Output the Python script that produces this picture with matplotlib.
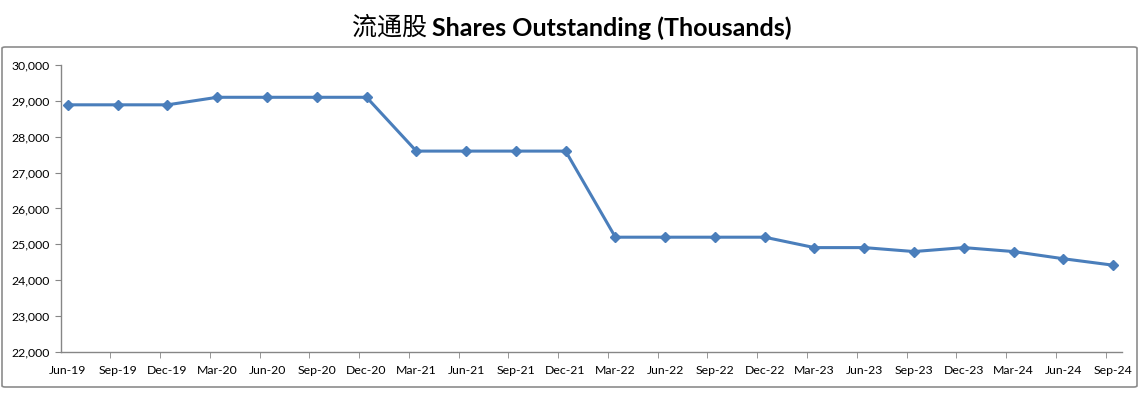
import matplotlib
matplotlib.use("Agg")
import matplotlib.pyplot as plt
from matplotlib.patches import FancyBboxPatch
import numpy as np

quarters = ["Jun-19", "Sep-19", "Dec-19", "Mar-20", "Jun-20", "Sep-20", "Dec-20",
            "Mar-21", "Jun-21", "Sep-21", "Dec-21", "Mar-22", "Jun-22", "Sep-22",
            "Dec-22", "Mar-23", "Jun-23", "Sep-23", "Dec-23", "Mar-24", "Jun-24",
            "Sep-24"]
shares = [28890, 28890, 28890, 29100, 29100, 29100, 29100,
          27600, 27600, 27600, 27600, 25200, 25200, 25200,
          25200, 24910, 24910, 24800, 24910, 24800, 24600,
          24420]
y_ticks = [22000, 23000, 24000, 25000, 26000, 27000, 28000, 29000, 30000]

W, H = 1143, 395
fig = plt.figure(figsize=(W / 100, H / 100), dpi=100)

# outer chart frame
frame = FancyBboxPatch((2 / W, 1 - 387 / H), 1135 / W, 340 / H,
                       boxstyle="round,pad=0,rounding_size=0.003",
                       transform=fig.transFigure, fill=False,
                       edgecolor="#8c8c8c", linewidth=1.2)
fig.patches.append(frame)

ax = fig.add_axes([61 / W, 1 - 352 / H, (1122 - 61) / W, (352 - 65) / H])
x = np.arange(len(quarters))
ax.plot(x, shares, color="#4a7ebb", linewidth=2.2, marker="D",
        markersize=5.5, markerfacecolor="#4a7ebb", markeredgecolor="#4a7ebb",
        clip_on=False)

ax.set_xlim(-0.14, len(quarters) - 1 + 0.18)
ax.set_ylim(y_ticks[0], y_ticks[-1])

ax.set_xticks(x)
ax.set_xticklabels(quarters, fontsize=8.8, family="Lato")
ax.tick_params(axis="x", which="major", length=0, pad=9)
# small tick marks sit just left of each point, as in the source chart
ax.set_xticks(x[1:] - 0.15, minor=True)
ax.tick_params(axis="x", which="minor", length=4, color="#868686", direction="out")

ax.set_yticks(y_ticks)
ax.set_yticklabels([f"{v:,}" for v in y_ticks], fontsize=8.8, family="Lato")
ax.tick_params(axis="y", length=4, color="#868686", pad=4)

for side in ["top", "right"]:
    ax.spines[side].set_visible(False)
for side in ["left", "bottom"]:
    ax.spines[side].set_color("#868686")
    ax.spines[side].set_linewidth(1.0)

# title: Chinese part (regular) + English part (bold)
fig.text(427 / W, 1 - 28 / H, "流通股", ha="right", va="center",
         fontsize=18, family=["Noto Sans CJK SC", "DejaVu Sans"])
fig.text(432 / W, 1 - 28 / H, "Shares Outstanding (Thousands)", ha="left",
         va="center", fontsize=18, fontweight="bold", family="Lato")

fig.savefig("out.png", dpi=100)
